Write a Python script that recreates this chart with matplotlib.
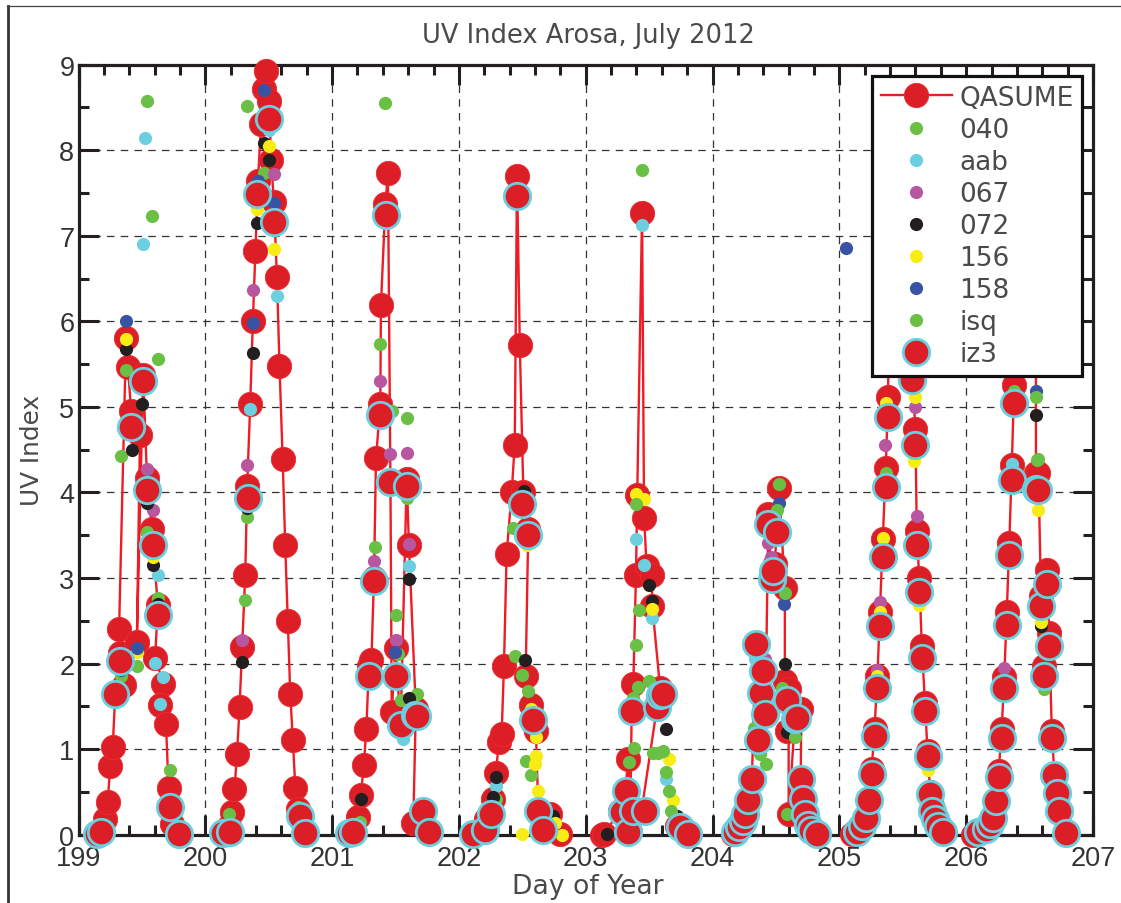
import numpy as np
import matplotlib
matplotlib.use('Agg')
import matplotlib.pyplot as plt
from matplotlib.lines import Line2D
from matplotlib.ticker import MultipleLocator

# values (day of year, UV index)
qasume_x = [199.15, 199.21, 199.23, 199.25, 199.27, 199.29, 199.36, 199.33, 199.32, 199.375, 199.39, 199.415, 199.485, 199.46, 199.51, 199.54, 199.58, 199.625, 199.605, 199.67, 199.645, 199.69, 199.71, 199.72, 199.74, 199.79,
            200.15, 200.19, 200.21, 200.23, 200.25, 200.27, 200.29, 200.315, 200.33, 200.354, 200.375, 200.395, 200.415, 200.44, 200.46, 200.48, 200.5, 200.52, 200.54, 200.565, 200.585, 200.61, 200.63, 200.65, 200.67, 200.69, 200.71, 200.73, 200.75, 200.79,
            201.146, 201.206, 201.227, 201.25, 201.27, 201.29, 201.31, 201.33, 201.346, 201.38, 201.385, 201.42, 201.44, 201.46, 201.47, 201.50, 201.54, 201.588, 201.606, 201.66, 201.64, 201.714, 201.764,
            202.11, 202.166, 202.21, 202.27, 202.29, 202.316, 202.337, 202.355, 202.376, 202.416, 202.44, 202.458, 202.48, 202.508, 202.547, 202.526, 202.568, 202.587, 202.607, 202.626, 202.665, 202.718, 202.797,
            203.125, 203.144, 203.27, 203.31, 203.336, 203.35, 203.362, 203.375, 203.396, 203.406, 203.444, 203.46, 203.48, 203.52, 203.525, 203.586, 203.573, 203.56, 203.44, 203.717, 203.783,
            204.16, 204.18, 204.21, 204.24, 204.26, 204.285, 204.31, 204.34, 204.357, 204.383, 204.40, 204.417, 204.44, 204.44, 204.467, 204.48, 204.49, 204.506, 204.525, 204.57, 204.57, 204.585, 204.6, 204.6, 204.65, 204.70, 204.695, 204.71, 204.73, 204.756, 204.78, 204.82,
            205.103, 205.137, 205.177, 205.21, 205.235, 205.255, 205.277, 205.30, 205.32, 205.342, 205.366, 205.384, 205.40, 205.57, 205.57, 205.6, 205.61, 205.63, 205.65, 205.675, 205.695, 205.716, 205.734, 205.755, 205.78, 205.82,
            206.057, 206.097, 206.157, 206.19, 206.215, 206.236, 206.257, 206.28, 206.3, 206.32, 206.34, 206.36, 206.378, 206.40, 206.55, 206.55, 206.57, 206.59, 206.61, 206.636, 206.654, 206.675, 206.696, 206.714, 206.733, 206.79]
qasume_y = [0.0, 0.18, 0.38, 0.80, 1.03, 1.65, 1.75, 2.12, 2.40, 5.80, 5.47, 4.95, 4.67, 2.25, 5.37, 4.17, 3.57, 2.68, 2.07, 1.76, 1.52, 1.29, 0.55, 0.32, 0.12, 0.0,
            0.03, 0.10, 0.27, 0.53, 0.94, 1.49, 2.19, 3.04, 4.07, 5.03, 6.0, 6.82, 7.64, 8.31, 8.72, 8.93, 8.58, 7.89, 7.39, 6.52, 5.48, 4.39, 3.39, 2.50, 1.64, 1.11, 0.55, 0.30, 0.22, 0.03,
            0.03, 0.21, 0.46, 0.82, 1.24, 1.97, 2.04, 3.0, 4.40, 5.03, 6.19, 7.37, 7.73, 4.11, 1.43, 2.18, 1.27, 4.16, 3.38, 1.47, 0.14, 0.28, 0.04,
            0.02, 0.05, 0.18, 0.42, 0.72, 1.08, 1.18, 1.97, 3.28, 4.0, 4.56, 7.70, 5.72, 4.0, 3.57, 1.86, 1.51, 1.31, 1.21, 0.28, 0.05, 0.24, 0.01,
            0.0, 0.01, 0.28, 0.51, 0.88, 0.03, 1.44, 1.76, 3.03, 3.97, 7.26, 3.70, 3.14, 3.03, 2.67, 1.72, 1.58, 1.47, 0.28, 0.10, 0.03,
            0.01, 0.05, 0.09, 0.16, 0.24, 0.40, 0.65, 2.23, 1.11, 1.66, 1.91, 1.41, 3.75, 3.63, 2.99, 3.08, 3.16, 3.54, 4.05, 2.88, 1.80, 1.21, 1.70, 0.24, 1.36, 1.47, 0.65, 0.42, 0.24, 0.11, 0.05, 0.01,
            0.01, 0.03, 0.10, 0.20, 0.40, 0.77, 1.24, 1.85, 2.60, 3.45, 4.28, 5.11, 7.50, 7.50, 5.46, 4.74, 3.55, 3.0, 2.21, 1.54, 0.98, 0.50, 0.34, 0.18, 0.10, 0.03,
            0.0, 0.03, 0.07, 0.12, 0.20, 0.39, 0.75, 1.23, 1.84, 2.60, 3.41, 4.32, 5.26, 7.50, 7.50, 4.23, 4.23, 2.79, 1.97, 3.09, 2.36, 1.21, 0.70, 0.49, 0.28, 0.02]

iz3_x = [199.145, 199.18, 199.29, 199.33, 199.415, 199.51, 199.54, 199.585, 199.625, 199.72, 199.79,
         200.14, 200.195, 200.333, 200.41, 200.5, 200.54, 200.75, 200.79,
         201.13, 201.167, 201.29, 201.33, 201.38, 201.425, 201.456, 201.503, 201.54, 201.588, 201.654, 201.667, 201.714, 201.764,
         202.113, 202.205, 202.25, 202.458, 202.5, 202.547, 202.587, 202.626, 202.665,
         203.283, 203.315, 203.336, 203.362, 203.375, 203.467, 203.56, 203.586, 203.61, 203.743, 203.81,
         204.178, 204.21, 204.243, 204.257, 204.283, 204.309, 204.34, 204.357, 204.383, 204.40, 204.417, 204.44, 204.467, 204.48, 204.506, 204.585, 204.65, 204.664, 204.695, 204.71, 204.73, 204.756, 204.78, 204.82,
         205.137, 205.177, 205.21, 205.235, 205.255, 205.277, 205.30, 205.32, 205.342, 205.366, 205.384, 205.57, 205.6, 205.61, 205.63, 205.65, 205.675, 205.695, 205.716, 205.734, 205.755, 205.78, 205.82,
         206.097, 206.157, 206.19, 206.215, 206.236, 206.257, 206.28, 206.3, 206.32, 206.34, 206.36, 206.378, 206.55, 206.57, 206.59, 206.61, 206.636, 206.654, 206.675, 206.696, 206.714, 206.733, 206.79]
iz3_y = [0.01, 0.03, 1.65, 2.03, 4.77, 5.30, 4.03, 3.39, 2.57, 0.32, 0.01,
         0.02, 0.03, 3.93, 7.49, 8.37, 7.16, 0.22, 0.02,
         0.02, 0.03, 1.85, 2.96, 4.91, 7.24, 4.12, 1.86, 1.28, 4.08, 1.40, 1.39, 0.28, 0.03,
         0.01, 0.05, 0.24, 7.46, 3.87, 3.50, 1.34, 0.28, 0.05,
         0.26, 0.51, 0.03, 1.44, 0.28, 0.28, 1.49, 1.63, 1.64, 0.09, 0.01,
         0.03, 0.09, 0.16, 0.24, 0.40, 0.65, 2.23, 1.11, 1.66, 1.91, 1.41, 3.63, 2.99, 3.08, 3.54, 1.58, 1.35, 1.36, 0.65, 0.42, 0.24, 0.11, 0.05, 0.01,
         0.03, 0.10, 0.20, 0.40, 0.71, 1.15, 1.72, 2.44, 3.25, 4.06, 4.88, 5.31, 4.55, 3.39, 2.84, 2.06, 1.44, 0.92, 0.48, 0.28, 0.18, 0.10, 0.03,
         0.03, 0.07, 0.12, 0.20, 0.39, 0.68, 1.13, 1.72, 2.45, 3.27, 4.14, 5.04, 4.04, 4.03, 2.67, 1.85, 2.93, 2.21, 1.13, 0.70, 0.49, 0.28, 0.02]

s040_x = [199.54, 199.58, 199.625, 199.375, 199.335, 199.625, 199.54, 199.335, 199.465, 199.72, 200.33, 200.46, 200.33, 200.315, 200.19, 200.73,
          201.42, 201.38, 201.34, 201.59, 201.50, 201.52, 201.54, 201.667, 201.59, 201.47, 201.22,
          202.424, 202.44, 202.50, 202.547, 202.526, 202.568, 202.29]
s040_y = [8.58, 7.23, 5.56, 5.43, 4.43, 2.77, 3.54, 1.86, 1.97, 0.76, 8.52, 7.73, 3.71, 2.74, 0.24, 0.32,
          8.55, 5.74, 3.36, 4.87, 2.57, 2.11, 1.57, 1.65, 3.94, 4.95, 0.15,
          3.58, 2.09, 1.87, 1.68, 0.86, 0.70, 0.42]

aab_x = [199.525, 199.51, 199.625, 199.605, 199.67, 199.645, 200.354, 200.565, 200.5, 201.606, 201.56, 202.29,
         203.445, 203.40, 203.46, 203.52, 203.362, 203.63, 204.335, 205.3, 206.36]
aab_y = [8.14, 6.90, 3.03, 2.01, 1.84, 1.53, 4.97, 6.29, 8.23, 3.14, 1.12, 0.57,
         7.12, 3.45, 3.15, 2.53, 1.42, 0.65, 2.05, 1.80, 4.33]

s067_x = [199.54, 199.585, 200.375, 200.33, 200.29, 200.54, 201.33, 201.38, 201.46, 201.588, 201.50, 201.606,
          204.435, 204.46, 204.414, 205.32, 205.30, 205.61, 205.36, 205.6, 206.3]
s067_y = [4.27, 3.80, 6.36, 4.32, 2.28, 7.72, 3.20, 5.30, 4.45, 4.46, 2.27, 3.40,
          3.41, 3.24, 2.05, 2.72, 1.92, 3.73, 4.56, 5.0, 1.95]

s072_x = [199.375, 199.5, 199.42, 199.54, 199.585, 199.625, 200.375, 200.29, 200.46, 200.5, 200.41, 200.33,
          201.606, 201.23, 201.606, 202.513, 202.52, 202.29, 202.27, 202.745,
          203.5, 203.525, 203.63, 203.17, 203.717, 204.57, 204.585, 204.65, 206.55, 206.59]
s072_y = [5.68, 5.03, 4.50, 3.88, 3.15, 2.70, 5.63, 2.02, 8.08, 7.89, 7.15, 3.82,
          2.99, 0.42, 1.60, 4.02, 2.04, 0.68, 0.44, 0.22,
          2.92, 2.73, 1.24, 0.01, 0.22, 1.99, 1.20, 1.16, 4.91, 2.44]

s156_x = [199.375, 199.46, 199.585, 200.5, 200.54, 200.41, 202.5, 202.54, 202.57, 202.605, 202.607, 202.6, 202.62, 202.757, 202.815,
          203.394, 203.46, 203.525, 203.357, 203.657, 203.69, 205.342, 205.32, 205.30, 205.59, 205.695, 205.63, 205.366, 205.6, 206.57, 206.59]
s156_y = [5.79, 2.13, 3.24, 8.05, 6.85, 7.31, 0.01, 3.38, 1.47, 1.14, 0.92, 0.83, 0.51, 0.14, 0.0,
          3.98, 3.92, 2.64, 1.47, 0.88, 0.40, 3.47, 2.60, 1.86, 4.37, 0.76, 2.69, 5.05, 5.12, 3.79, 2.49]

s158_x = [199.375, 199.46, 199.335, 200.46, 200.375, 200.415, 200.54, 200.33, 201.496, 204.525, 204.567, 205.05, 206.55]
s158_y = [6.0, 2.18, 1.92, 8.70, 5.98, 7.64, 7.38, 4.03, 2.14, 3.88, 2.70, 6.86, 5.19]

isq_x = [203.44, 203.396, 203.42, 203.40, 203.415, 203.5, 203.375, 203.378, 203.344, 203.573, 203.53, 203.61, 203.63, 203.66, 203.67,
         204.525, 204.506, 204.57, 204.546, 204.42, 204.375, 204.33, 204.59, 204.65, 205.366, 206.38, 206.55, 206.56, 206.57, 206.61]
isq_y = [7.77, 3.86, 2.63, 2.22, 1.73, 1.80, 1.60, 1.01, 0.85, 0.96, 0.96, 0.98, 0.73, 0.51, 0.28,
         4.10, 3.80, 2.83, 1.72, 0.83, 0.94, 1.25, 0.24, 1.14, 4.23, 5.18, 5.11, 4.38, 4.39, 1.70]

red = '#dc1f26'
green = '#6abf45'
small = [('040', s040_x, s040_y, green),
         ('aab', aab_x, aab_y, '#6ccfe0'),
         ('067', s067_x, s067_y, '#b8569f'),
         ('072', s072_x, s072_y, '#231f20'),
         ('156', s156_x, s156_y, '#f7ec13'),
         ('158', s158_x, s158_y, '#3953a4'),
         ('isq', isq_x, isq_y, green)]

W, H = 1121, 904
plt.rcParams['font.family'] = ['DejaVu Sans']
text_col = '#4a4a4a'

fig = plt.figure(figsize=(W / 100, H / 100), dpi=100)
ax = fig.add_axes([78.5 / W, 1 - 835.7 / H, (1093 - 78.5) / W, (835.7 - 65.6) / H])

# the line breaks at night, so no red runs along the axis between days
gaps = np.where(np.diff(qasume_x) > 0.2)[0] + 1
line_x = np.insert(np.array(qasume_x), gaps, np.nan)
line_y = np.insert(np.array(qasume_y), gaps, np.nan)

ax.plot(line_x, line_y, '-o', color='#ee1c25', lw=1.7, ms=17.5, mfc=red, mec='#ee2a30', mew=0.6,
        label='QASUME', clip_on=False, zorder=3)
for i, (name, x, y, col) in enumerate(small):
    ax.plot(x, y, 'o', color=col, ms=9.5, mew=0, label=name, clip_on=False, zorder=4 + i * 0.1)
ax.plot(iz3_x, iz3_y, 'o', ms=19, mfc=red, mec='#6ccfe0', mew=2, label='iz3', clip_on=False, zorder=5)

ax.set_xlim(199, 207)
ax.set_ylim(0, 9)
ax.xaxis.set_major_locator(MultipleLocator(1))
ax.xaxis.set_minor_locator(MultipleLocator(0.2))
ax.yaxis.set_major_locator(MultipleLocator(1))
ax.yaxis.set_minor_locator(MultipleLocator(0.5))
ax.tick_params(which='major', direction='in', top=True, right=True, length=14.4, width=2.2, color='#231f20',
               labelsize=19.5, labelfontfamily='Liberation Sans', labelcolor='#333333')
ax.tick_params(which='minor', direction='in', top=True, right=True, length=7.2, width=2.2, color='#231f20')
ax.tick_params(axis='x', which='major', pad=7.5)
ax.tick_params(axis='y', which='major', pad=3)
ax.grid(True, which='major', color='#333333', lw=0.9, ls=(0, (6, 5)))
ax.set_axisbelow(True)
for sp in ax.spines.values():
    sp.set_linewidth(2.3)
    sp.set_color('#231f20')

fig.text(588 / W, 1 - 36 / H, 'UV Index Arosa, July 2012', ha='center', va='center', fontsize=18.5, color=text_col)
fig.text(588 / W, 1 - 887 / H, 'Day of Year', ha='center', va='center', fontsize=19.2, color=text_col)
fig.text(32 / W, 1 - 450 / H, 'UV Index', ha='center', va='center', rotation=90, fontsize=17.8, color=text_col)

leg = ax.legend(loc='upper left', bbox_to_anchor=(872 / W, 1 - 77 / H), bbox_transform=fig.transFigure,
                borderaxespad=0, fancybox=False, framealpha=1, edgecolor='#111111', fontsize=19,
                numpoints=1, handlelength=2.7, handletextpad=0.28, borderpad=0.33, labelspacing=0.23,
                labelcolor=text_col)
leg.get_frame().set_linewidth(2.3)
leg.set_zorder(20)

# page frame round the figure
fig.add_artist(Line2D([7.5 / W, 7.5 / W], [0, 1 - 7 / H], color='#333333', lw=2))
fig.add_artist(Line2D([7 / W, 1], [1 - 7 / H, 1 - 7 / H], color='#444444', lw=0.9))

fig.savefig('out.png', dpi=100)
